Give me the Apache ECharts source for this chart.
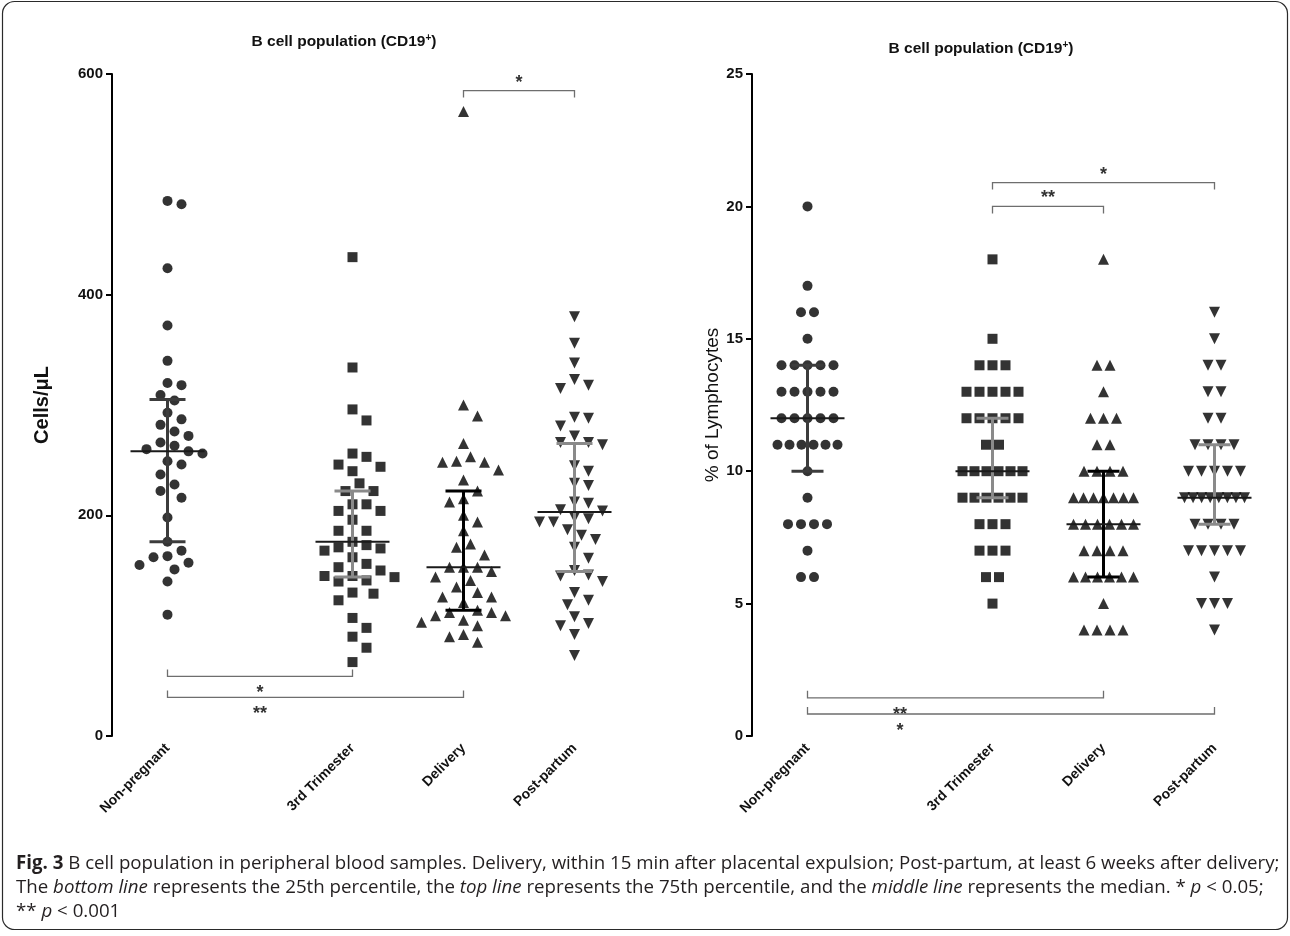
<!DOCTYPE html>
<html><head><meta charset="utf-8">
<script src="https://cdn.jsdelivr.net/npm/echarts@6/dist/echarts.min.js"></script>
<style>html,body{margin:0;padding:0;background:#fff}#c{width:1290px;height:936px}</style>
</head><body><div id="c"></div>
<script>
// ---------------- data ----------------
const categories = ['Non-pregnant', '3rd Trimester', 'Delivery', 'Post-partum'];

// Left panel: Cells/µL
const cellsNonPregnant = [485, 482, 424, 372, 340, 320, 318, 309, 304, 293, 287, 282, 276, 272, 266, 263, 260, 258, 256, 249, 246, 237, 228, 222, 216, 198, 176, 168, 163, 162, 157, 155, 151, 140, 110];
const cellsThirdTrimester = [434, 334, 296, 286, 256, 253, 246, 244, 240, 229, 222, 222, 210, 210, 204, 204, 196, 186, 186, 176, 173, 171, 170, 168, 162, 156, 153, 150, 145, 145, 144, 141, 140, 130, 129, 123, 107, 98, 90, 80, 67];
const cellsDelivery = [566, 300, 290, 265, 253, 249, 248, 248, 241, 232, 222, 215, 212, 200, 194, 186, 174, 171, 164, 153, 153, 153, 149, 144, 141, 135, 130, 126, 126, 121, 114, 112, 112, 109, 109, 105, 103, 100, 92, 90, 85];
const cellsPostPartum = [380, 356, 338, 323, 318, 315, 289, 288, 281, 272, 266, 266, 264, 245, 240, 229, 227, 212, 211, 205, 204, 198, 197, 194, 194, 187, 182, 178, 171, 161, 150, 146, 145, 140, 130, 123, 119, 108, 102, 100, 92, 73];
const cellsMedian = [258, 176, 153, 203];
const cellsQ1 = [176, 144, 114, 149];
const cellsQ3 = [305, 222, 222, 265];
const cellsTicks = [0, 200, 400, 600];

// Right panel: % of Lymphocytes
const pctNonPregnant = [20, 17, 16, 16, 15, 14, 14, 14, 14, 14, 13, 13, 13, 13, 13, 12, 12, 12, 12, 12, 11, 11, 11, 11, 11, 11, 10, 9, 8, 8, 8, 8, 7, 6, 6];
const pctThirdTrimester = [18, 15, 14, 14, 14, 13, 13, 13, 13, 13, 12, 12, 12, 12, 12, 11, 11, 10, 10, 10, 10, 10, 10, 9, 9, 9, 9, 9, 9, 8, 8, 8, 7, 7, 7, 6, 6, 5];
const pctDelivery = [18, 14, 14, 13, 12, 12, 12, 11, 11, 10, 10, 10, 10, 9, 9, 9, 9, 9, 9, 9, 8, 8, 8, 8, 8, 8, 7, 7, 7, 7, 6, 6, 6, 6, 6, 6, 5, 4, 4, 4, 4];
const pctPostPartum = [16, 15, 14, 14, 13, 13, 12, 12, 11, 11, 11, 11, 10, 10, 10, 10, 10, 9, 9, 9, 9, 9, 9, 9, 9, 8, 8, 8, 8, 7, 7, 7, 7, 7, 6, 5, 5, 5, 4];
const pctMedian = [12, 10, 8, 9];
const pctQ1 = [10, 9, 6, 8];
const pctQ3 = [14, 12, 10, 11];
const pctTicks = [0, 5, 10, 15, 20, 25];

// significance brackets: group indices, height in data units, label
const cellsBrackets = [
  { from: 2, to: 3, y: 585, label: '*' },
  { from: 0, to: 1, y: 54, label: '*' },
  { from: 0, to: 2, y: 35, label: '**' }
];
const pctBrackets = [
  { from: 1, to: 3, y: 20.9, label: '*' },
  { from: 1, to: 2, y: 20.0, label: '**' },
  { from: 0, to: 2, y: 1.44, label: '**' },
  { from: 0, to: 3, y: 0.83, label: '*' }
];

// ---------------- layout ----------------
const slotPos = [0, 5, 8, 11];          // horizontal slots of the 4 groups
const X_MIN = -1.5, X_MAX = 12.5;
const GRID_W = 518, GRID_H = 662;
const pxPerSlot = GRID_W / (X_MAX - X_MIN);
const grids = [
  { left: 112, top: 74, width: GRID_W, height: GRID_H },
  { left: 752, top: 74, width: GRID_W, height: GRID_H }
];
const yMax = [600, 25];
const yInterval = [200, 5];
const whiskerColors = ['#3c3c3c', '#8a8a8a', '#000000', '#8a8a8a'];
const symbols = ['circle', 'rect', 'triangle', 'triangle'];
const symRot = [0, 0, 0, 180];
const symSize = [10, 10, 11, 11];
const FONT = '"Liberation Sans", Arial, sans-serif';

// beeswarm for continuous values (pixel offsets)
function swarm(vals, pxPerUnit, step, minD) {
  const order = vals.map((v, i) => i).sort((a, b) => vals[b] - vals[a]);
  const placed = [], off = new Array(vals.length).fill(0);
  for (const i of order) {
    const y = vals[i] * pxPerUnit;
    for (let k = 0; k < 60; k++) {
      const m = k === 0 ? 0 : (k % 2 ? (k + 1) / 2 : -k / 2);
      const x = m * step;
      if (placed.every(p => (p[0] - x) ** 2 + (p[1] - y) ** 2 >= minD * minD)) {
        placed.push([x, y]); off[i] = x; break;
      }
    }
  }
  return off;
}
// rows for discrete values
function rowsLayout(vals, d, maxSpan) {
  const groups = {}, off = new Array(vals.length).fill(0);
  vals.forEach((v, i) => { (groups[v] = groups[v] || []).push(i); });
  Object.values(groups).forEach(g => {
    const n = g.length;
    const dd = n > 1 ? Math.min(d, maxSpan / (n - 1)) : 0;
    g.forEach((idx, j) => { off[idx] = (j - (n - 1) / 2) * dd; });
  });
  return off;
}

const panels = [
  { groups: [cellsNonPregnant, cellsThirdTrimester, cellsDelivery, cellsPostPartum], med: cellsMedian, q1: cellsQ1, q3: cellsQ3, brackets: cellsBrackets, discrete: false },
  { groups: [pctNonPregnant, pctThirdTrimester, pctDelivery, pctPostPartum], med: pctMedian, q1: pctQ1, q3: pctQ3, brackets: pctBrackets, discrete: true }
];

const series = [];
panels.forEach((p, pi) => {
  const pxPerUnit = GRID_H / yMax[pi];
  p.groups.forEach((vals, gi) => {
    const off = p.discrete ? rowsLayout(vals, 13, 60) : swarm(vals, pxPerUnit, 7, 14);
    series.push({
      type: 'scatter', xAxisIndex: pi, yAxisIndex: pi, z: 2,
      symbol: symbols[gi], symbolRotate: symRot[gi], symbolSize: symSize[gi],
      itemStyle: { color: '#000' },
      silent: true,
      data: vals.map((v, i) => [slotPos[gi] + off[i] / pxPerSlot, v])
    });
  });
  // whiskers
  series.push({
    type: 'custom', xAxisIndex: pi, yAxisIndex: pi, z: 5, silent: true,
    data: p.med.map((m, gi) => [slotPos[gi], m, p.q1[gi], p.q3[gi], gi]),
    renderItem: function (params, api) {
      const x = api.value(0), gi = api.value(4);
      const pm = api.coord([x, api.value(1)]);
      const a = api.coord([x, api.value(2)]);
      const b = api.coord([x, api.value(3)]);
      const c = whiskerColors[gi];
      const cap = pi === 0 ? 18 : 16;
      return { type: 'group', children: [
        { type: 'line', shape: { x1: a[0], y1: a[1], x2: b[0], y2: b[1] }, style: { stroke: c, lineWidth: 3 } },
        { type: 'line', shape: { x1: a[0] - cap, y1: a[1], x2: a[0] + cap, y2: a[1] }, style: { stroke: c, lineWidth: 3 } },
        { type: 'line', shape: { x1: b[0] - cap, y1: b[1], x2: b[0] + cap, y2: b[1] }, style: { stroke: c, lineWidth: 3 } },
        { type: 'line', shape: { x1: pm[0] - 37, y1: pm[1], x2: pm[0] + 37, y2: pm[1] }, style: { stroke: '#1a1a1a', lineWidth: 2 } }
      ] };
    }
  });
  // brackets
  series.push({
    type: 'custom', xAxisIndex: pi, yAxisIndex: pi, z: 4, silent: true,
    data: p.brackets.map(b => [slotPos[b.from], b.y, slotPos[b.to]]),
    renderItem: function (params, api) {
      const b = p.brackets[params.dataIndex];
      const p1 = api.coord([slotPos[b.from], b.y]);
      const p2 = api.coord([slotPos[b.to], b.y]);
      const top = b.y > yMax[pi] / 2;
      const t = top ? 7 : -7;
      const lx = top ? (p1[0] + p2[0]) / 2 : api.coord([(slotPos[0] + slotPos[1]) / 2, b.y])[0];
      return { type: 'group', children: [
        { type: 'polyline', shape: { points: [[p1[0], p1[1] + t], [p1[0], p1[1]], [p2[0], p2[1]], [p2[0], p2[1] + t]] },
          style: { stroke: '#6e6e6e', lineWidth: 1.3, fill: null } },
        { type: 'text', style: { text: b.label, x: lx, y: top ? p1[1] - 8 : p1[1] + 17, align: 'center', verticalAlign: 'middle',
          font: 'bold 18px ' + FONT, fill: '#333' } }
      ] };
    }
  });
});

const titleRich = {
  a: { fontFamily: FONT, fontWeight: 'bold', fontSize: 15.5, color: '#111' },
  s: { fontFamily: FONT, fontWeight: 'bold', fontSize: 10, color: '#111', verticalAlign: 'top', padding: [0, 0, 8, 0] }
};

const xAxes = [0, 1].map(pi => ({
  type: 'value', gridIndex: pi, min: X_MIN, max: X_MAX,
  splitLine: { show: false }, axisLine: { show: false }, axisTick: { show: false },
  axisLabel: {
    customValues: slotPos, rotate: 45, margin: 10,
    formatter: v => categories[slotPos.indexOf(v)] || '',
    fontFamily: FONT, fontWeight: 'bold', fontSize: 14, color: '#111'
  }
}));
const yAxes = [0, 1].map(pi => ({
  type: 'value', gridIndex: pi, min: 0, max: yMax[pi], interval: yInterval[pi],
  splitLine: { show: false },
  axisLine: { show: true, onZero: false, lineStyle: { color: '#000', width: 2 } },
  axisTick: { show: true, length: 6, lineStyle: { color: '#000', width: 2 } },
  axisLabel: { margin: 9, fontFamily: FONT, fontWeight: 'bold', fontSize: 15, color: '#111' },
  name: pi === 0 ? 'Cells/μL' : '% of Lymphocytes',
  nameLocation: 'middle', nameGap: pi === 0 ? 60 : 22,
  nameTextStyle: pi === 0
    ? { fontFamily: FONT, fontWeight: 'bold', fontSize: 20, color: '#111' }
    : { fontFamily: FONT, fontWeight: 'normal', fontSize: 19, color: '#111' }
}));

const capFont = '"Open Sans", "Noto Sans", sans-serif';
const CAP_SIZE = 18.7;
const capRich = {
  b: { fontFamily: capFont, fontWeight: 'bold', fontSize: CAP_SIZE, color: '#231f20' },
  i: { fontFamily: capFont, fontStyle: 'italic', fontSize: CAP_SIZE, color: '#231f20' },
  n: { fontFamily: capFont, fontSize: CAP_SIZE, color: '#231f20' }
};
const capLines = [
  '{b|Fig. 3}{n| B cell population in peripheral blood samples. Delivery, within 15 min after placental expulsion; Post-partum, at least 6 weeks after delivery;}',
  '{n|The }{i|bottom line}{n| represents the 25th percentile, the }{i|top line}{n| represents the 75th percentile, and the }{i|middle line}{n| represents the median. * }{i|p}{n| < 0.05;}',
  '{n|** }{i|p}{n| < 0.001}'
];

const option = {
  backgroundColor: '#fff',
  animation: false,
  title: [
    { text: '{a|B cell population (CD19}{s|+}{a|)}', left: 339, top: 28, textAlign: 'center', textStyle: { rich: titleRich } },
    { text: '{a|B cell population (CD19}{s|+}{a|)}', left: 976, top: 35, textAlign: 'center', textStyle: { rich: titleRich } }
  ],
  grid: grids,
  xAxis: xAxes,
  yAxis: yAxes,
  series: series,
  graphic: [
    { type: 'rect', shape: { x: 2.5, y: 1.5, width: 1285, height: 928, r: 12 }, style: { fill: null, stroke: '#2a2a2a', lineWidth: 1.2 }, silent: true },
    ...capLines.map((t, i) => ({
      type: 'text', left: 16, top: 854 + i * 24, silent: true,
      style: { text: t, rich: capRich, font: CAP_SIZE + 'px ' + capFont, fill: '#231f20' }
    }))
  ]
};

const chart = echarts.init(document.getElementById('c'), null, { renderer: 'canvas' });
chart.setOption(option);
</script>
</body></html>
